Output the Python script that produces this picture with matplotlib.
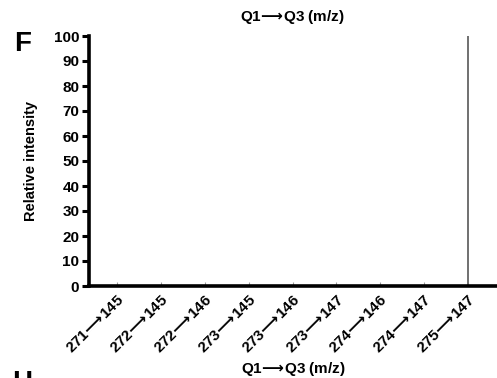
import matplotlib
matplotlib.use("Agg")
import matplotlib.pyplot as plt

plt.rcParams['font.family'] = ['Liberation Sans', 'DejaVu Sans']
plt.rcParams['font.weight'] = 'bold'
plt.rcParams['mathtext.fontset'] = 'dejavusans'

ARROW = r"$\!\longrightarrow\!$"
transitions = ["271", "272", "272", "273", "273", "273", "274", "274", "275"]
products = ["145", "145", "146", "145", "146", "147", "146", "147", "147"]
intensity = [0, 0, 0, 0, 0, 0, 0, 0, 100]
y_ticks = [0, 10, 20, 30, 40, 50, 60, 70, 80, 90, 100]

labels = [f"{q1}{ARROW}{q3}" for q1, q3 in zip(transitions, products)]
axis_title = f"Q1{ARROW}Q3 (m/z)"

W, H = 497, 378
fig = plt.figure(figsize=(W / 100, H / 100), dpi=100)
ax = fig.add_axes([89 / W, 1 - 286 / H, (W - 89) / W, 250 / H])

x = list(range(len(labels)))
ax.vlines(x, 0, intensity, color="#707070", linewidth=1.4)

ax.set_xlim(-0.64, 8.66)
ax.set_ylim(0, 100)
ax.set_yticks(y_ticks)
ax.set_xticks(x)
ax.set_xticklabels(labels, rotation=45, ha="right", rotation_mode="anchor",
                   fontsize=11, fontweight="bold")
ax.tick_params(axis="y", direction="out", length=5, width=2.2, labelsize=11, pad=2)
ax.tick_params(axis="x", direction="in", length=3, width=0.8, color="#999999", pad=5)
for lab in ax.get_yticklabels():
    lab.set_fontweight("bold")

for side in ("top", "right"):
    ax.spines[side].set_visible(False)
for side in ("left", "bottom"):
    ax.spines[side].set_linewidth(2.6)

ax.set_ylabel("Relative intensity", fontsize=10.5, fontweight="bold", labelpad=11)
ax.set_xlabel(axis_title, fontsize=11, fontweight="bold", labelpad=3)

fig.text(292 / W, 1 - 17 / H, axis_title, fontsize=11, fontweight="bold",
         ha="center", va="center")
fig.text(14 / W, 1 - 44 / H, "F", fontsize=20, fontweight="bold", ha="left", va="center")
fig.text(12 / W, 1 - 370 / H, "H", fontsize=20, fontweight="bold", ha="left", va="top")

fig.savefig("out.png", dpi=100)
